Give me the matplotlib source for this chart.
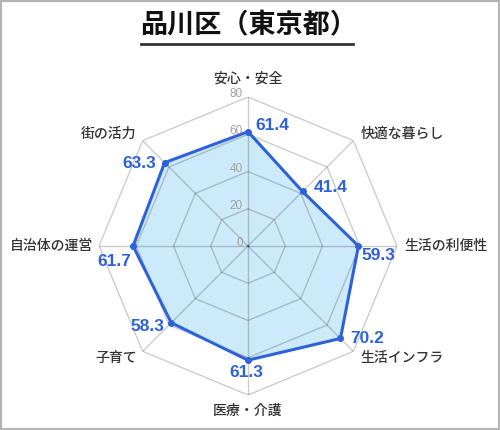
import numpy as np
import matplotlib
matplotlib.use('Agg')
import matplotlib.pyplot as plt
from matplotlib.patches import Rectangle
from matplotlib.lines import Line2D

plt.rcParams['font.family'] = ['Noto Sans CJK JP', 'DejaVu Sans']

title = '品川区（東京都）'
categories = ['安心・安全', '快適な暮らし', '生活の利便性', '生活インフラ',
              '医療・介護', '子育て', '自治体の運営', '街の活力']
values = [61.4, 41.4, 59.3, 70.2, 61.3, 58.3, 61.7, 63.3]
ticks = [0, 20, 40, 60, 80]

# value label offsets (pixels) and alignment
label_off = [(7, 6), (11, 4), (3, -10), (10, 0), (-2, -12), (-7, -4), (-2, -15), (-9, -1)]
label_ha = ['left', 'left', 'left', 'left', 'center', 'right', 'right', 'right']

line_col = '#2d62d8'
fill_col = '#cdeafa'
grid_col = (0, 0, 0, 0.2)

fig = plt.figure(figsize=(5, 4.3), dpi=100)
fig.patches.append(Rectangle((0, 0), 1, 1, transform=fig.transFigure,
                             fill=False, edgecolor='#b4b4b4', linewidth=3))

# title with underline
fig.text(0.497, 0.942, title, ha='center', va='center', fontsize=19.5,
         fontweight='bold', color='#111111')
fig.add_artist(Line2D([141 / 500, 353 / 500], [1 - 44 / 430, 1 - 44 / 430],
                      transform=fig.transFigure, color='#333333', linewidth=2))

ax = fig.add_axes([99 / 500, 35 / 430, 298 / 500, 298 / 430], projection='polar')
ax.set_theta_zero_location('N')
ax.set_theta_direction(-1)
ax.set_ylim(0, 80)
ax.grid(False)
ax.spines['polar'].set_visible(False)
ax.set_xticks([])
ax.set_yticks([])
ax.patch.set_alpha(0)

n = len(categories)
angles = np.arange(n) * 2 * np.pi / n
closed_a = np.append(angles, angles[0])
closed_v = np.append(values, values[0])

ax.fill(closed_a, closed_v, color=fill_col, zorder=1, linewidth=0)

# polygon grid rings and spokes
for t in ticks[1:]:
    ax.plot(closed_a, [t] * (n + 1), color=grid_col, linewidth=1, zorder=2)
for a in angles:
    ax.plot([a, a], [0, ticks[-1]], color=grid_col, linewidth=1, zorder=2)

ax.plot(closed_a, closed_v, color=line_col, linewidth=2.2, zorder=3)
ax.plot(angles, values, 'o', color=line_col, markersize=4, zorder=4)

# tick labels on the top spoke
for t in ticks:
    ax.annotate(str(t), xy=(0, t), xytext=(-5, 3), textcoords='offset pixels',
                ha='right', va='center', fontsize=8.5, color='#a0a0a0',
                family='Liberation Sans')

# category labels
for a, c in zip(angles, categories):
    s, co = np.sin(a), np.cos(a)
    if abs(s) < 0.1:
        ha = 'center'
        dx = 0
        dy = 11 if co > 0 else -9
        va = 'bottom' if co > 0 else 'top'
    else:
        ha = 'left' if s > 0 else 'right'
        dx = 7 if s > 0 else -6
        dy = 0
        if abs(co) < 0.1:
            va = 'center'
        else:
            va = 'bottom' if co > 0 else 'top'
    ax.annotate(c, xy=(a, ticks[-1]), xytext=(dx, dy), textcoords='offset pixels',
                ha=ha, va=va, fontsize=10, fontweight='medium', color='#333333',
                annotation_clip=False)

# value labels
for a, v, off, ha in zip(angles, values, label_off, label_ha):
    ax.annotate(f'{v:.1f}', xy=(a, v), xytext=off, textcoords='offset pixels',
                ha=ha, va='center', fontsize=12.5, fontweight='bold',
                color=line_col, family='Liberation Sans', zorder=5)

fig.savefig('out.png', dpi=100)
